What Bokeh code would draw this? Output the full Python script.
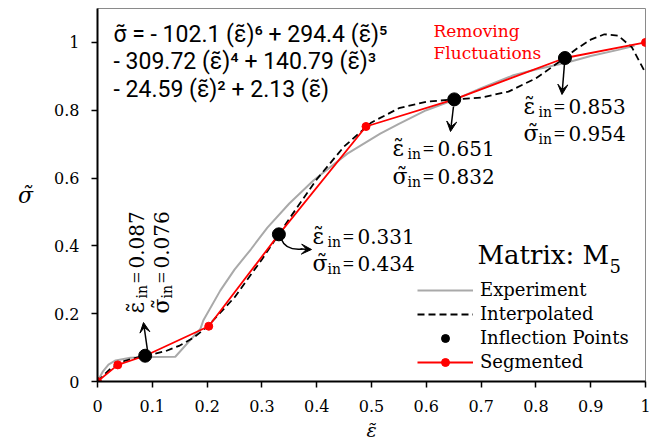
import math
from bokeh.plotting import figure
from bokeh.models import (Range1d, FixedTicker, Label, Legend, LegendItem,
                          Arrow, VeeHead)
from bokeh.embed import file_html
from bokeh.resources import INLINE

# ---------------- data ----------------
exp_x = [0, 0.01, 0.02, 0.033, 0.06, 0.1, 0.142, 0.188, 0.193, 0.224, 0.25, 0.28,
         0.31, 0.35, 0.394, 0.456, 0.516, 0.55, 0.6, 0.65, 0.7, 0.759, 0.8, 0.857,
         0.9, 0.95, 0.98]
exp_y = [0, 0.03, 0.05, 0.062, 0.07, 0.072, 0.073, 0.156, 0.18, 0.268, 0.33, 0.39,
         0.454, 0.525, 0.593, 0.672, 0.731, 0.76, 0.80, 0.83, 0.865, 0.903, 0.92,
         0.941, 0.96, 0.978, 0.99]

interp_x = [0, 0.025, 0.05, 0.075, 0.1, 0.125, 0.15, 0.175, 0.2, 0.25, 0.3, 0.35,
            0.4, 0.45, 0.5, 0.55, 0.6, 0.65, 0.7, 0.75, 0.8, 0.85, 0.875, 0.9,
            0.925, 0.95, 0.975, 1.0]
interp_y = [0, 0.040, 0.061, 0.072, 0.080, 0.090, 0.106, 0.129, 0.161, 0.248,
            0.360, 0.480, 0.596, 0.693, 0.764, 0.806, 0.825, 0.832, 0.837, 0.855,
            0.894, 0.951, 0.982, 1.008, 1.024, 1.020, 0.986, 0.910]

infl_x = [0.087, 0.331, 0.651, 0.853]
infl_y = [0.076, 0.434, 0.832, 0.954]

seg_x = [0, 0.037, 0.087, 0.203, 0.331, 0.49, 0.651, 0.853, 1.0]
seg_y = [0, 0.049, 0.076, 0.163, 0.434, 0.752, 0.832, 0.954, 1.0]

x_ticks = [0, 0.1, 0.2, 0.3, 0.4, 0.5, 0.6, 0.7, 0.8, 0.9, 1]
x_tick_labels = ["0", "0.1", "0.2", "0.3", "0.4", "0.5", "0.6", "0.7", "0.8", "0.9", "1"]
y_ticks = [0, 0.2, 0.4, 0.6, 0.8, 1]
y_tick_labels = ["0", "0.2", "0.4", "0.6", "0.8", "1"]

eq_lines = ["\u03c3\u0303 = - 102.1 (\u03b5\u0303)\u2076 + 294.4 (\u03b5\u0303)\u2075",
            "-  309.72 (\u03b5\u0303)\u2074 + 140.79 (\u03b5\u0303)\u00b3",
            "- 24.59 (\u03b5\u0303)\u00b2 + 2.13 (\u03b5\u0303)"]

EPS = "\u03b5\u0303"
SIG = "\u03c3\u0303"
SERIF = "DejaVu Serif"
SANS = "Roboto"

# ---------------- figure ----------------
W, H = 672, 445
FL, FR, FT, FB = 97, 27, 8, 64
YMAX = 1.1
p = figure(width=W, height=H, x_range=Range1d(0, 1), y_range=Range1d(0, YMAX),
           output_backend="svg", toolbar_location=None,
           min_border_left=FL, min_border_right=FR, min_border_top=FT,
           min_border_bottom=FB)
p.background_fill_color = "white"
p.border_fill_color = "white"
p.outline_line_color = "#8a8a8a"
p.outline_line_width = 1
p.xgrid.visible = False
p.ygrid.visible = False

FW = W - FL - FR
FH = H - FT - FB
FY0 = FT + FH


def dx(xp):
    return (xp - FL) / FW


def dy(yp):
    return (FY0 - yp) / FH * YMAX


for ax, ticks, labels in ((p.xaxis[0], x_ticks, x_tick_labels),
                          (p.yaxis[0], y_ticks, y_tick_labels)):
    ax.ticker = FixedTicker(ticks=ticks)
    ax.major_label_overrides = {t: l for t, l in zip(ticks, labels)}
    ax.axis_line_color = "black"
    ax.axis_line_width = 2
    ax.major_tick_line_color = "black"
    ax.major_tick_line_width = 1.5
    ax.major_tick_out = 6
    ax.major_tick_in = 0
    ax.minor_tick_line_color = None
    ax.major_label_text_font = SERIF
    ax.major_label_text_font_size = "16px"
    ax.major_label_text_color = "black"
    ax.major_label_standoff = 12
    ax.axis_label_text_font = SERIF
    ax.axis_label_text_font_size = "22px"
    ax.axis_label_text_font_style = "italic"
    ax.axis_label_text_color = "black"

p.yaxis[0].axis_label = SIG
p.yaxis[0].axis_label_standoff = 18
p.yaxis[0].axis_label_orientation = "horizontal"

p.xaxis[0].axis_label = EPS
p.xaxis[0].axis_label_text_font_size = "19px"
p.xaxis[0].axis_label_standoff = 4

# ---------------- series ----------------
r_exp = p.line(exp_x, exp_y, line_color="#a9a9a9", line_width=2)
r_int = p.line(interp_x, interp_y, line_color="black", line_width=1.8,
               line_dash="7 4")
r_seg = p.line(seg_x, seg_y, line_color="#ff0000", line_width=1.8)
r_segm = p.scatter(seg_x, seg_y, size=8, fill_color="#ff0000",
                   line_color="#ff0000")
r_inf = p.scatter(infl_x, infl_y, size=13, fill_color="black", line_color="black")

# ---------------- arrows ----------------
def arrow(x0p, y0p, x1p, y1p):
    p.add_layout(Arrow(x_start=dx(x0p), y_start=dy(y0p), x_end=dx(x1p), y_end=dy(y1p),
                       line_color="black", line_width=1.5,
                       end=VeeHead(size=10, fill_color="black", line_color="black")))

arrow(147, 350, 143, 322)
arrow(453, 106, 450, 131)
arrow(564, 63, 561.5, 94)
p.bezier(x0=[dx(281)], y0=[dy(239)], x1=[dx(302)], y1=[dy(248.5)],
         cx0=[dx(284)], cy0=[dy(247)], cx1=[dx(292)], cy1=[dy(249.5)],
         line_color="black", line_width=1.5)
arrow(300, 248.6, 311, 249)

# ---------------- texts ----------------
def lbl(xp, yp, txt, size, color="black", font=SERIF, align="left",
        baseline="middle", angle=0.0, style="normal"):
    p.add_layout(Label(x=dx(xp), y=dy(yp), text=txt, text_font=font,
                       text_font_size=f"{size}px", text_color=color,
                       text_align=align, text_baseline=baseline, angle=angle,
                       text_font_style=style))


for i, line in enumerate(eq_lines):
    lbl(113, [34, 61, 89][i], line, 23, font=SANS)

lbl(433, 30, "Removing", 17, color="#ff0000")
lbl(433, 52, "Fluctuations", 17, color="#ff0000")

lbl(477, 254, "Matrix: M", 26)
lbl(609, 265, "5", 18)


def infl_label(x0, yc, sym, num):
    lbl(x0, yc, sym, 22)
    lbl(x0 + 15, yc + 5, "in", 14)
    lbl(x0 + 36, yc, "=", 20, align="center", font="Liberation Serif")
    lbl(x0 + 45, yc, num, 20)


def infl_label_rot(cx, y0, sym, num):
    a = math.pi / 2
    lbl(cx, y0, sym, 22, angle=a)
    lbl(cx + 5, y0 - 15, "in", 14, angle=a)
    lbl(cx, y0 - 36, "=", 20, align="center", angle=a, font="Liberation Serif")
    lbl(cx, y0 - 45, num, 20, angle=a)


infl_label(312, 236, EPS, f"{infl_x[1]:.3f}")
infl_label(312, 263, SIG, f"{infl_y[1]:.3f}")
infl_label(392, 148, EPS, f"{infl_x[2]:.3f}")
infl_label(392, 176, SIG, f"{infl_y[2]:.3f}")
infl_label(523, 106, EPS, f"{infl_x[3]:.3f}")
infl_label(523, 133, SIG, f"{infl_y[3]:.3f}")
infl_label_rot(136, 313, EPS, f"{infl_x[0]:.3f}")
infl_label_rot(161, 313, SIG, f"{infl_y[0]:.3f}")

# ---------------- legend ----------------
legend = Legend(items=[LegendItem(label="Experiment", renderers=[r_exp]),
                       LegendItem(label="Interpolated", renderers=[r_int]),
                       LegendItem(label="Inflection Points", renderers=[r_inf]),
                       LegendItem(label="Segmented", renderers=[r_seg, r_segm])],
                location=(320, 9), padding=0, margin=0, spacing=3,
                label_height=20, glyph_height=20, glyph_width=56,
                label_standoff=7, label_text_font=SERIF,
                label_text_font_size="18px", label_text_color="black",
                background_fill_alpha=0, border_line_color=None)
p.add_layout(legend)

open("out.html", "w").write(file_html(p, INLINE))
